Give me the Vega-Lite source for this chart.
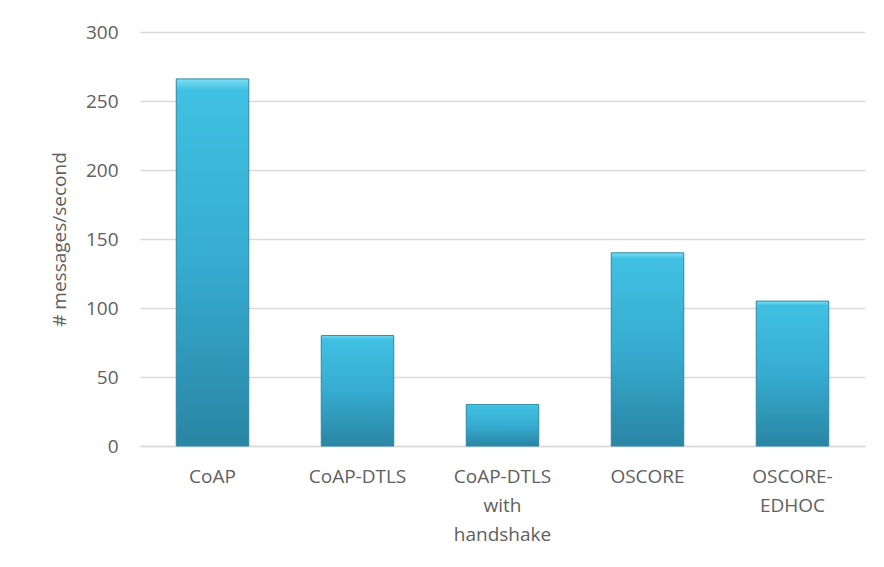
{
  "$schema": "https://vega.github.io/schema/vega-lite/v6.json",
  "width": 725,
  "height": 414,
  "autosize": {"type": "none"},
  "padding": {"left": 140, "top": 32, "right": 19, "bottom": 121},
  "background": "white",
  "data": {
    "values": [
      {"protocol": "CoAP", "rate": 266},
      {"protocol": "CoAP-DTLS", "rate": 80},
      {"protocol": "CoAP-DTLS with handshake", "rate": 30},
      {"protocol": "OSCORE", "rate": 140},
      {"protocol": "OSCORE-EDHOC", "rate": 105}
    ]
  },
  "mark": {
    "type": "bar",
    "color": {
      "gradient": "linear",
      "x1": 0, "y1": 0, "x2": 0, "y2": 1,
      "stops": [
        {"offset": 0, "color": "#7FE0F5"},
        {"offset": 0.03, "color": "#40C0E2"},
        {"offset": 0.5, "color": "#36ACD0"},
        {"offset": 1, "color": "#2A85A4"}
      ]
    },
    "stroke": "#2C86A3",
    "strokeWidth": 1
  },
  "encoding": {
    "x": {
      "field": "protocol",
      "type": "nominal",
      "sort": null,
      "scale": {"paddingInner": 0.5, "paddingOuter": 0.25},
      "axis": {
        "title": null,
        "labelAngle": 0,
        "ticks": false,
        "domainColor": "#D9D9D9",
        "domainWidth": 1.5,
        "labelColor": "#606060",
        "labelFont": "Open Sans",
        "labelFontSize": 19,
        "labelPadding": 21,
        "labelLineHeight": 29,
        "labelBaseline": "top",
        "labelExpr": "datum.value == 'CoAP-DTLS with handshake' ? ['CoAP-DTLS','with','handshake'] : datum.value == 'OSCORE-EDHOC' ? ['OSCORE-','EDHOC'] : datum.value"
      }
    },
    "y": {
      "field": "rate",
      "type": "quantitative",
      "scale": {"domain": [0, 300]},
      "axis": {
        "title": "# messages/second",
        "values": [0, 50, 100, 150, 200, 250, 300],
        "domain": false,
        "ticks": false,
        "gridColor": "#D9D9D9",
        "gridWidth": 1.5,
        "labelColor": "#606060",
        "labelFont": "Open Sans",
        "labelFontSize": 19,
        "labelPadding": 22,
        "titleColor": "#606060",
        "titleFont": "Open Sans",
        "titleFontSize": 19,
        "titleFontWeight": "normal",
        "titlePadding": 16
      }
    }
  },
  "config": {"view": {"stroke": null}}
}
